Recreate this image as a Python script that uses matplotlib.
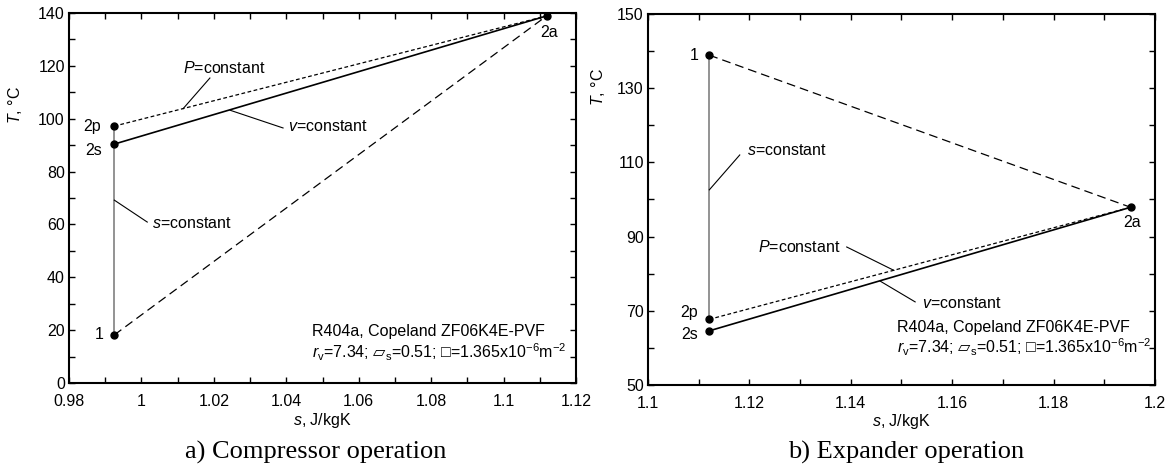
import matplotlib
matplotlib.use("Agg")
import matplotlib.pyplot as plt
from matplotlib.ticker import MultipleLocator, FormatStrFormatter

plt.rcParams['font.family'] = ['Liberation Sans', 'DejaVu Sans']
plt.rcParams['mathtext.fontset'] = 'custom'
plt.rcParams['mathtext.rm'] = 'Liberation Sans'
plt.rcParams['mathtext.it'] = 'Liberation Sans:italic'
plt.rcParams['mathtext.sf'] = 'DejaVu Sans'

# state points, order: 1, 2s, 2p, 2a  (s in J/kgK, T in degC)
point_names = ['1', '2s', '2p', '2a']
comp_s = [0.9925, 0.9925, 0.9925, 1.1119]
comp_T = [18.2, 90.4, 97.2, 138.9]
exp_s = [1.1121, 1.1121, 1.1121, 1.1952]
exp_T = [138.9, 64.6, 67.7, 97.9]

info_line1 = "R404a, Copeland ZF06K4E-PVF"
info_line2 = r"$r_{\rm v}$=7.34; $\mathsf{▱}_{\rm s}$=0.51; □=1.365x10$^{-6}$m$^{-2}$"

# label offsets (points) for 1, 2s, 2p, 2a
comp_offs = [(-8, 0), (-9, -4.5), (-10, 0), (2, -12)]
exp_offs = [(-8, 0), (-8, -3), (-8, 5), (1, -11)]

# (text, text position, leader start, leader end)
comp_notes = [
    ("$P$=constant", (1.0115, 119.2), (1.0189, 115.4), (1.0115, 103.8)),
    ("$v$=constant", (1.0405, 97.2), (1.0391, 96.5), (1.0245, 103.2)),
    ("$s$=constant", (1.0029, 60.5), (1.0016, 60.9), (0.9925, 69.2)),
]
exp_notes = [
    ("$s$=constant", (1.1195, 113.1), (1.1181, 112.0), (1.1121, 102.6)),
    ("$P$=constant", (1.1217, 87.2), (1.1392, 87.2), (1.1485, 80.9)),
    ("$v$=constant", (1.1540, 72.1), (1.1527, 72.4), (1.1458, 78.0)),
]


def draw_panel(ax, s, T, offs, notes):
    # 1 -> 2a
    ax.plot([s[0], s[3]], [T[0], T[3]], color='k', lw=0.9, dashes=(7, 4))
    # s = constant
    ax.plot([s[0], s[2]], [T[0], T[2]], color='0.5', lw=1.2)
    # P = constant
    ax.plot([s[2], s[3]], [T[2], T[3]], color='k', lw=0.9, dashes=(3, 2))
    # v = constant
    ax.plot([s[1], s[3]], [T[1], T[3]], color='k', lw=1.2)
    ax.plot(s, T, 'o', color='k', ms=5, zorder=5)
    for name, x, y, o in zip(point_names, s, T, offs):
        ha = 'right' if o[0] < 0 else 'center'
        ax.annotate(name, (x, y), xytext=o, textcoords='offset points',
                    ha=ha, va='center', fontsize=11.5)
    for txt, tpos, p0, p1 in notes:
        ax.text(tpos[0], tpos[1], txt, ha='left', va='center', fontsize=11.5)
        ax.plot([p0[0], p1[0]], [p0[1], p1[1]], color='k', lw=0.8)


def style_axes(ax):
    for sp in ax.spines.values():
        sp.set_linewidth(1.5)
    ax.tick_params(which='both', direction='in', top=True, right=True,
                   length=4, width=1, labelsize=11.5)
    ax.tick_params(axis='x', pad=8)
    ax.tick_params(axis='y', pad=3)
    ax.xaxis.set_major_formatter(FormatStrFormatter('%g'))
    ax.xaxis.set_minor_locator(MultipleLocator(0.01))
    ax.xaxis.set_major_locator(MultipleLocator(0.02))
    ax.set_xlabel('$s$, J/kgK', fontsize=11.5, labelpad=1)
    ax.set_ylabel('$T$, °C', fontsize=11.5)


fig = plt.figure(figsize=(11.76, 4.71), dpi=100)
ax1 = fig.add_axes([0.0587, 0.1868, 0.4311, 0.7856])
ax2 = fig.add_axes([0.5510, 0.1826, 0.4311, 0.7877])

draw_panel(ax1, comp_s, comp_T, comp_offs, comp_notes)
style_axes(ax1)
ax1.set_xlim(0.98, 1.12)
ax1.set_ylim(0, 140)
ax1.yaxis.set_major_locator(MultipleLocator(20))
ax1.yaxis.set_minor_locator(MultipleLocator(10))
ax1.yaxis.set_label_coords(-0.089, 0.751)
ax1.text(0.479, 0.138, info_line1, transform=ax1.transAxes, fontsize=11.5, va='center')
ax1.text(0.479, 0.084, info_line2, transform=ax1.transAxes, fontsize=11.5, va='center')

draw_panel(ax2, exp_s, exp_T, exp_offs, exp_notes)
style_axes(ax2)
ax2.set_xlim(1.1, 1.2)
ax2.set_ylim(50, 150)
ax2.yaxis.set_major_locator(MultipleLocator(20, offset=10))
ax2.yaxis.set_minor_locator(MultipleLocator(10))
ax2.yaxis.set_label_coords(-0.080, 0.803)
ax2.text(0.491, 0.154, info_line1, transform=ax2.transAxes, fontsize=11.5, va='center')
ax2.text(0.491, 0.102, info_line2, transform=ax2.transAxes, fontsize=11.5, va='center')

fig.text(316 / 1176, 0.040, "a) Compressor operation", family='Liberation Serif',
         fontsize=19, ha='center', va='center')
fig.text(906 / 1176, 0.040, "b) Expander operation", family='Liberation Serif',
         fontsize=19, ha='center', va='center')

fig.savefig('out.png', dpi=100)
